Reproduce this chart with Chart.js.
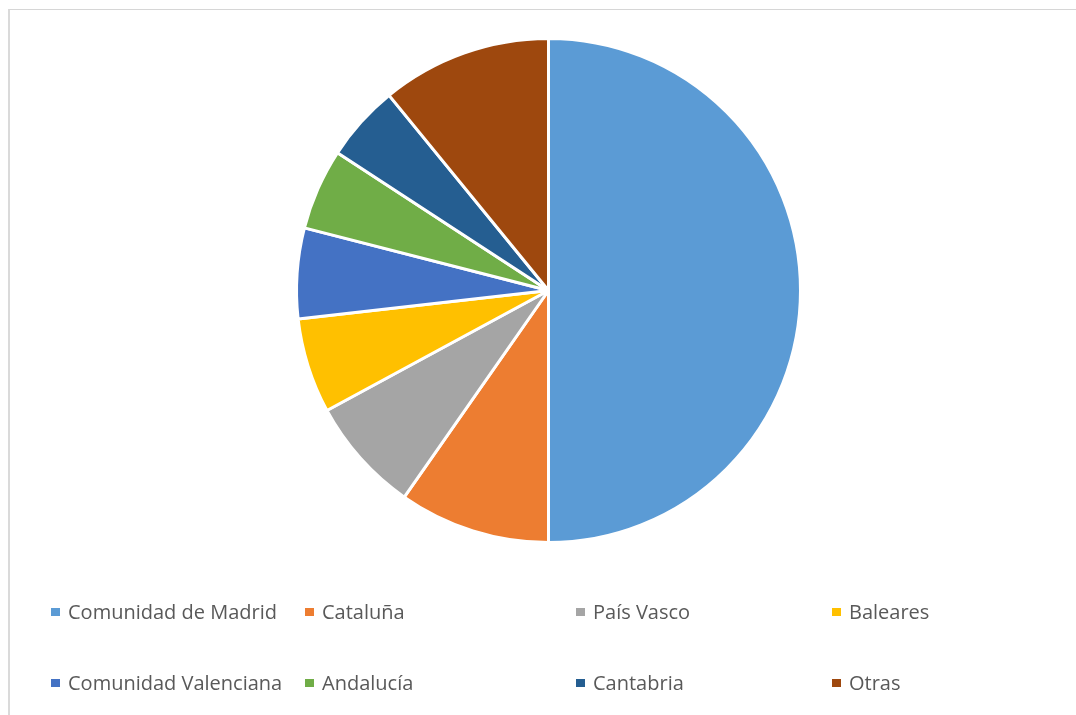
<!DOCTYPE html>
<html>
<head>
<meta charset="utf-8">
<script src="https://cdn.jsdelivr.net/npm/chart.js@4"></script>
<style>
  html, body { margin: 0; padding: 0; background: #fff; }
  #wrap { position: relative; width: 1076px; height: 715px; overflow: hidden; }
  #frame { position: absolute; left: 8px; top: 9px; width: 1200px; height: 800px;
           border-left: 2px solid #dadada; border-top: 1px solid #d6d6d6; }
  canvas { position: absolute; left: 0; top: 0; }
</style>
</head>
<body>
<div id="wrap">
  <div id="frame"></div>
  <canvas id="chart-area" width="1076" height="715"></canvas>
</div>
<script>
var regiones = [
    "Comunidad de Madrid",
    "Cataluña",
    "País Vasco",
    "Baleares",
    "Comunidad Valenciana",
    "Andalucía",
    "Cantabria",
    "Otras"
];
var porcentajes = [50.0, 9.7, 7.4, 6.1, 5.8, 5.2, 4.9, 10.9];
var colores = ["#5B9BD5", "#ED7D31", "#A5A5A5", "#FFC000", "#4472C4", "#70AD47", "#255E91", "#9E480E"];

// legend grid, office style (4 columns x 2 rows)
var legendCols = [51, 305, 576, 832];
var legendRows = [613, 684];

var officeLegend = {
    id: 'officeLegend',
    afterDraw: function (chart) {
        var ctx = chart.ctx;
        var items = chart.legend.legendItems;
        ctx.save();
        ctx.font = '20px "Open Sans"';
        ctx.textBaseline = 'middle';
        ctx.textAlign = 'left';
        items.forEach(function (item, i) {
            var x = legendCols[i % 4];
            var y = legendRows[Math.floor(i / 4)];
            ctx.fillStyle = item.fillStyle;
            ctx.fillRect(x, y - 5, 9, 8);
            ctx.fillStyle = '#595959';
            ctx.fillText(item.text, x + 17, y);
        });
        ctx.restore();
    }
};

var config = {
    type: 'pie',
    data: {
        labels: regiones,
        datasets: [{
            data: porcentajes,
            backgroundColor: colores,
            borderColor: '#ffffff',
            borderWidth: 3
        }]
    },
    options: {
        responsive: false,
        animation: false,
        layout: {
            padding: { left: 21, right: 0, top: 37, bottom: 171 }
        },
        plugins: {
            legend: { display: false },
            tooltip: { enabled: false }
        }
    },
    plugins: [officeLegend]
};

var ctx = document.getElementById("chart-area").getContext("2d");
var myPie = new Chart(ctx, config);
</script>
</body>
</html>
